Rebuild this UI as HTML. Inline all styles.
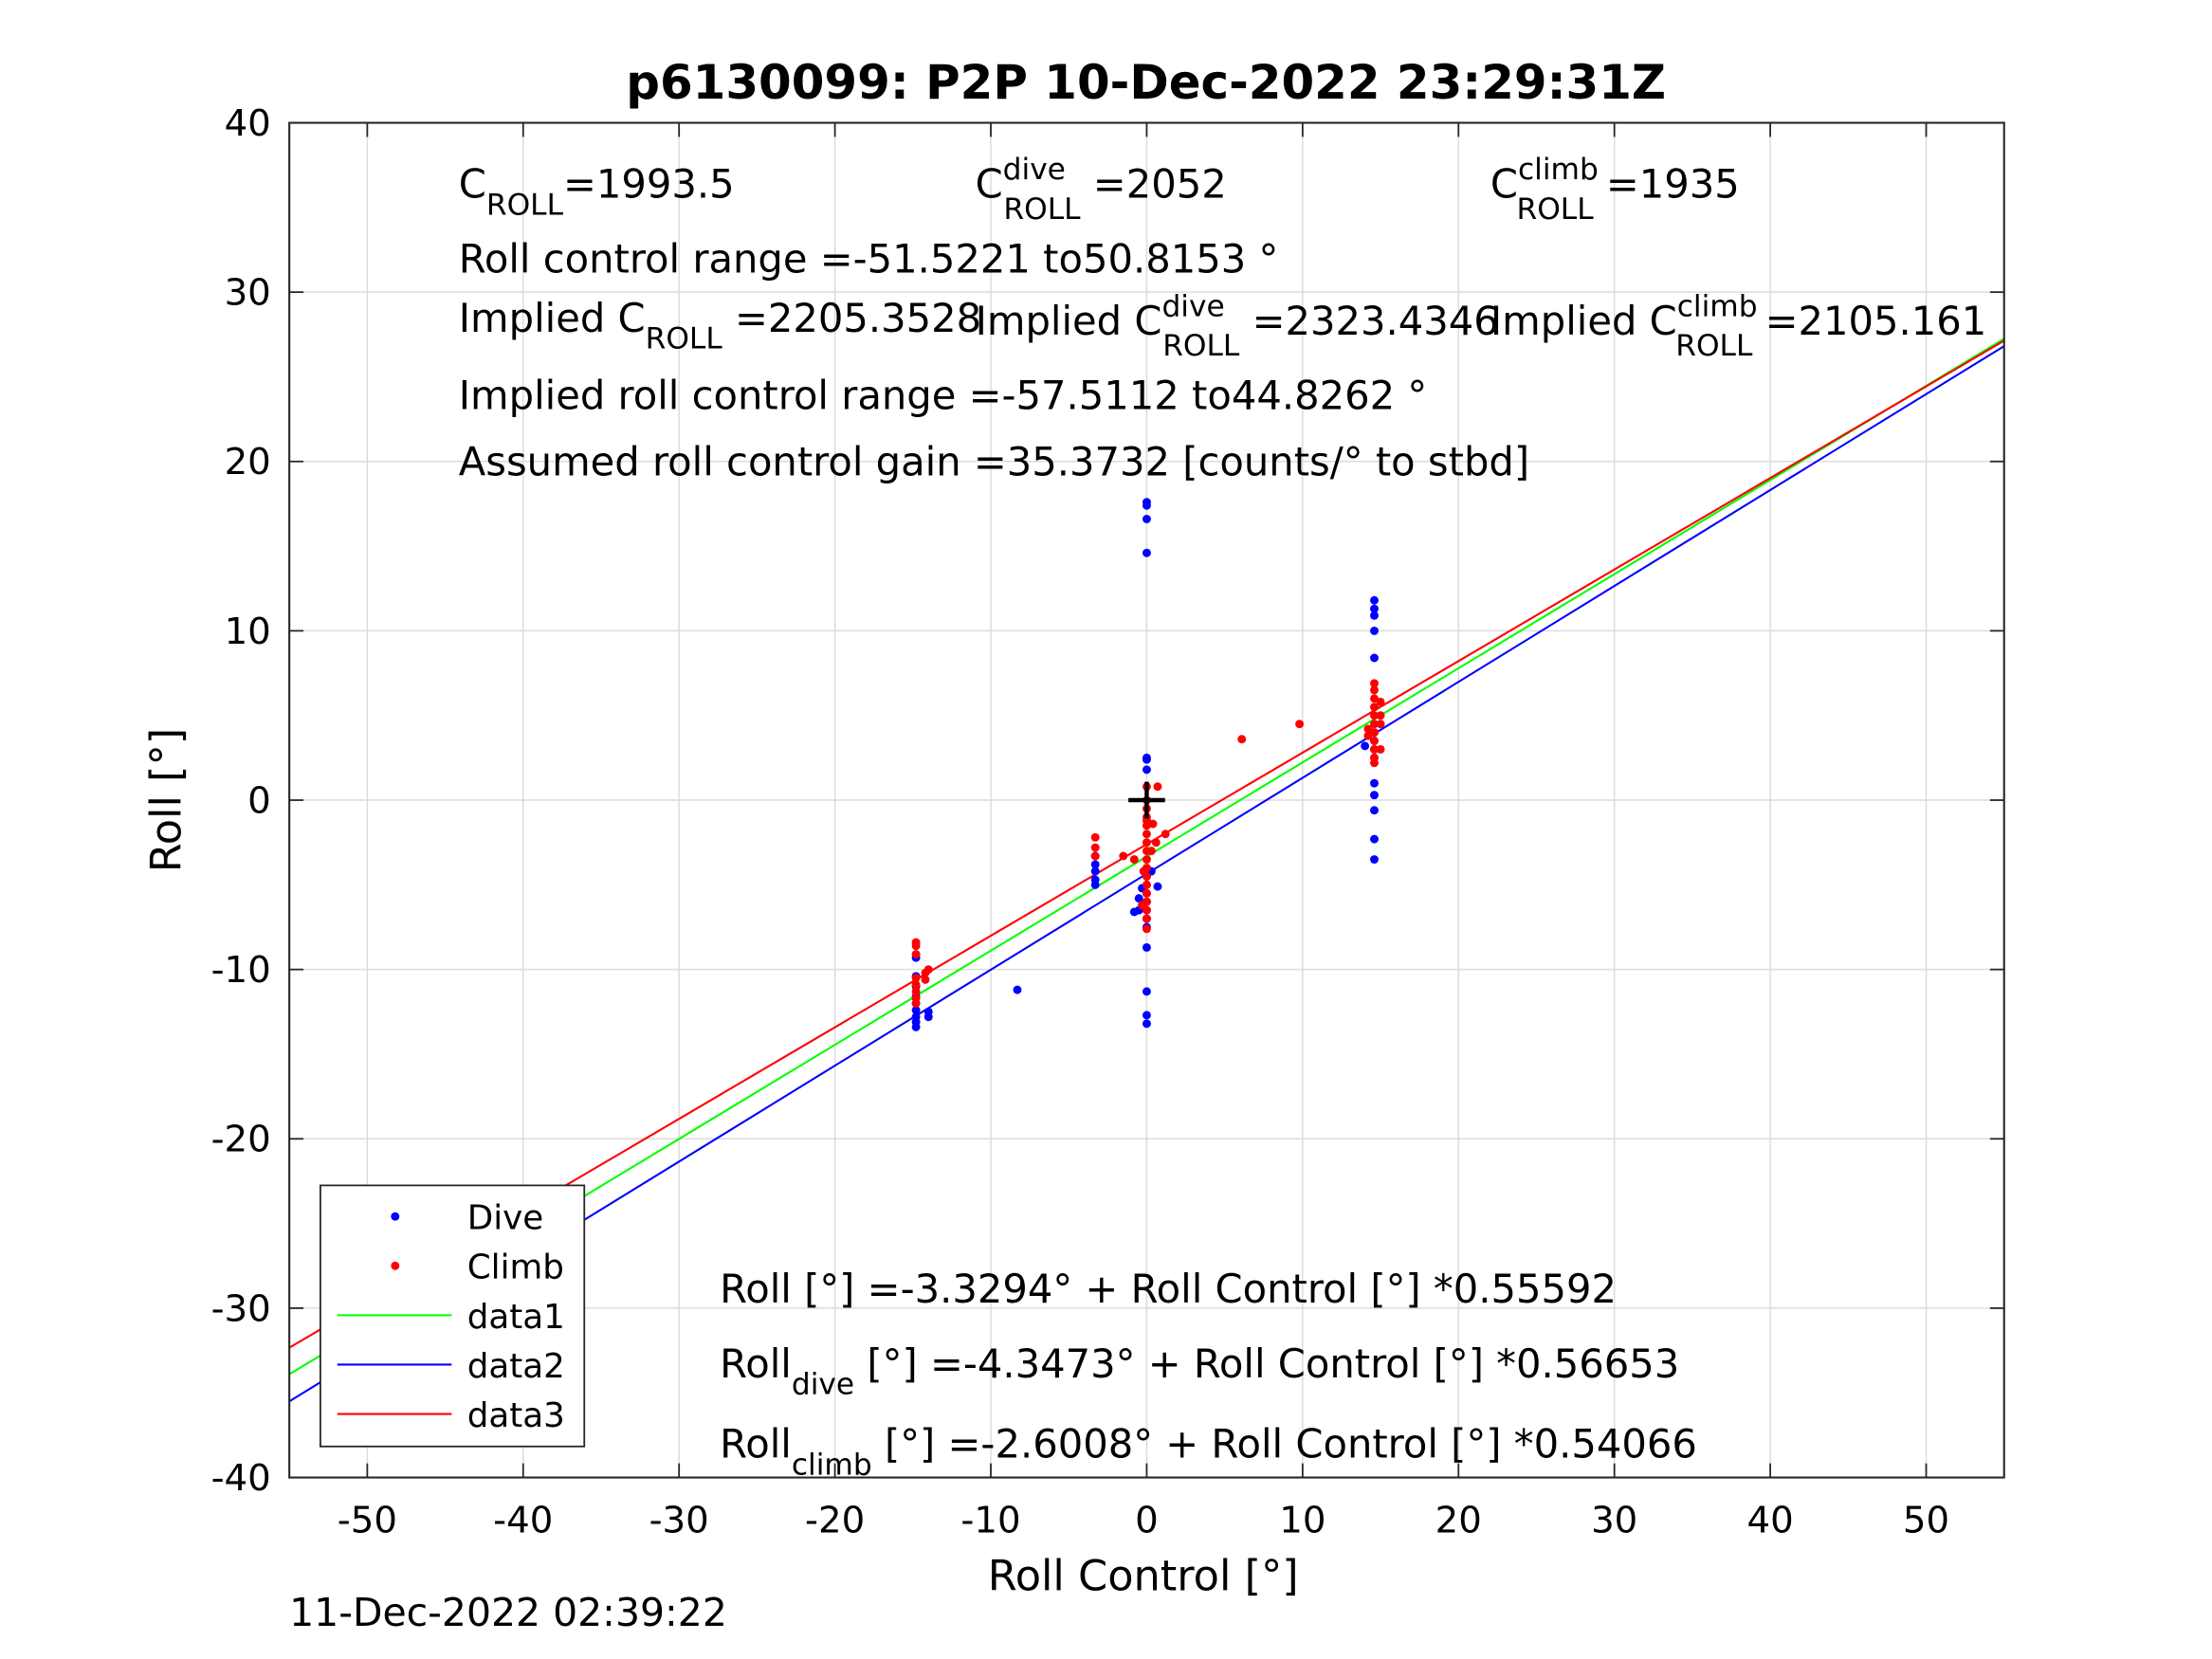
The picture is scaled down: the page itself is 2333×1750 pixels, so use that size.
<!DOCTYPE html>
<html><head><meta charset="utf-8"><style>
html,body{margin:0;padding:0;background:#fff}
svg{display:block}
text{font-family:"DejaVu Sans","Liberation Sans",sans-serif;fill:#000}
</style></head><body>
<svg id="chart" width="2333" height="1750" viewBox="0 0 1567.3 1175.6" xmlns="http://www.w3.org/2000/svg">
<rect x="0" y="0" width="1567.3" height="1175.6" fill="#fff"/>
<g id="grid"></g>
<g id="lines"></g>
<g id="pts"></g>
<g id="axes"></g>
<text x="812" y="70" text-anchor="middle" font-size="33.5" font-weight="bold">p6130099: P2P 10-Dec-2022 23:29:31Z</text>
<g font-size="28">
<text x="325" y="140">C<tspan font-size="21" dy="12">ROLL</tspan><tspan dy="-12">=1993.5</tspan></text>
<text x="691" y="140">C<tspan font-size="21" dy="-13">dive</tspan><tspan font-size="21" dx="-44" dy="28">ROLL</tspan><tspan dy="-15"> =2052</tspan></text>
<text x="1056" y="140">C<tspan font-size="21" dy="-13">climb</tspan><tspan font-size="21" dx="-58" dy="28">ROLL</tspan><tspan dy="-15"> =1935</tspan></text>
<text x="325" y="193">Roll control range =-51.5221 to50.8153 °</text>
<text x="325" y="235">Implied C<tspan font-size="21" dy="12">ROLL</tspan><tspan dy="-12"> =2205.3528</tspan></text>
<text x="691" y="237">Implied C<tspan font-size="21" dy="-13">dive</tspan><tspan font-size="21" dx="-44" dy="28">ROLL</tspan><tspan dy="-15"> =2323.4346</tspan></text>
<text x="1056" y="237">Implied C<tspan font-size="21" dy="-13">climb</tspan><tspan font-size="21" dx="-58" dy="28">ROLL</tspan><tspan dy="-15"> =2105.161</tspan></text>
<text x="325" y="290">Implied roll control range =-57.5112 to44.8262 °</text>
<text x="325" y="337">Assumed roll control gain =35.3732 [counts/° to stbd]</text>
<text x="510" y="923">Roll [°] =-3.3294° + Roll Control [°] *0.55592</text>
<text x="510" y="976">Roll<tspan font-size="21" dy="12">dive</tspan><tspan dy="-12"> [°] =-4.3473° + Roll Control [°] *0.56653</tspan></text>
<text x="510" y="1033">Roll<tspan font-size="21" dy="12">climb</tspan><tspan dy="-12"> [°] =-2.6008° + Roll Control [°] *0.54066</tspan></text>
</g>
<text x="810" y="1127" text-anchor="middle" font-size="30" fill="#262626">Roll Control [°]</text>
<text transform="translate(128,567) rotate(-90)" text-anchor="middle" font-size="30" fill="#262626">Roll [°]</text>
<text x="205" y="1152" font-size="27.5">11-Dec-2022 02:39:22</text>
<g id="legend"></g>
</svg>
<script>
const xTicks=[-50,-40,-30,-20,-10,0,10,20,30,40,50];
const yTicks=[-40,-30,-20,-10,0,10,20,30,40];
const fitNames=['data1','data2','data3'];
const fitIntercepts=[-3.3294,-4.3473,-2.6008];
const fitSlopes=[0.55592,0.56653,0.54066];
const fitColors=['#00ff00','#0000ff','#ff0000'];
const diveX=[0,0,0,0,0,0,0,0,0,0,0,0,0,0,0,0,0,0,0.7,-0.5,-0.5,-3.3,-3.3,-3.3,-3.3,-3.3,-14.8,-14.8,-14.8,-14.8,-14.8,-14.8,-14.8,-14.8,-14.8,-14,-14,-8.3,14.6,14.6,14.6,14.6,14.6,14.6,14.6,14.6,14.6,14.6,14.6,14.6,14.6,14.6,14,-0.8,-0.3,0.3];
const diveY=[17.6,17.4,16.6,14.6,2.5,2.4,1.8,-4.5,-5,-5.5,-6,-6.5,-7,-7.5,-8.7,-11.3,-12.7,-13.2,-5.1,-6.5,-5.8,-3.3,-3.8,-4.2,-4.7,-5,-9.3,-10.4,-11,-11.6,-12,-12.4,-12.8,-13.1,-13.4,-12.8,-12.5,-11.2,11.8,11.3,10.9,10,8.4,4,3.5,3,2.5,1,0.3,-0.6,-2.3,-3.5,3.2,-6.6,-5.2,-4.2];
const climbX=[-14.8,-14.8,-14.8,-14.8,-14.8,-14.8,-14.8,-14.8,-14.2,-14.2,-14,-3.3,-3.3,-3.3,0,0,0,0,0,0,0,0,0,0,0,0,0,0,0,0,0,0,0.3,-0.3,0.6,1.2,-0.8,-1.5,-0.2,0.4,0.7,6.1,9.8,14.6,14.6,14.6,14.6,14.6,14.6,14.6,14.6,14.6,14.6,14.6,15,15,15,15,14.2,14.2];
const climbY=[-8.4,-8.6,-9.1,-10.5,-10.9,-11.3,-11.7,-12,-10.2,-10.6,-10,-2.2,-2.8,-3.3,0.8,0,-0.5,-1,-1.5,-2,-2.5,-3,-3.5,-4,-4.5,-5,-5.5,-6,-6.5,-7,-7.6,-1.2,-3,-6.2,-2.5,-2,-3.5,-3.3,-4.2,-1.4,0.8,3.6,4.5,6.9,6.5,6,5.5,5,4.5,4,3.5,3,2.5,2.2,5.8,5,4.5,3,4.2,3.8];
const L=205,R=1420,T=87,B=1047,X0=-55,X1=55,Y0=-40,Y1=40;
const sx=v=>L+(v-X0)/(X1-X0)*(R-L);
const sy=v=>B-(v-Y0)/(Y1-Y0)*(B-T);
const NS='http://www.w3.org/2000/svg';
function mk(tag,attrs,parent){const e=document.createElementNS(NS,tag);for(const k in attrs)e.setAttribute(k,attrs[k]);parent.appendChild(e);return e;}
const grid=document.getElementById('grid'),axes=document.getElementById('axes'),lines=document.getElementById('lines'),pts=document.getElementById('pts'),leg=document.getElementById('legend');
xTicks.forEach(t=>{const x=sx(t);
 const g=mk('line',{x1:x,x2:x,y1:T,y2:B,stroke:'#dcdcdc','stroke-width':1},grid);
 
 
 mk('line',{x1:x,x2:x,y1:B,y2:B-10,stroke:'#262626','stroke-width':1.2},axes);
 mk('line',{x1:x,x2:x,y1:T,y2:T+10,stroke:'#262626','stroke-width':1.2},axes);
 const tx=mk('text',{x:x,y:1086,'text-anchor':'middle','font-size':26,fill:'#262626'},axes);tx.textContent=t;
 
 
});
yTicks.forEach(t=>{const y=sy(t);
 const g=mk('line',{x1:L,x2:R,y1:y,y2:y,stroke:'#dcdcdc','stroke-width':1},grid);
 
 
 mk('line',{x1:L,x2:L+10,y1:y,y2:y,stroke:'#262626','stroke-width':1.2},axes);
 mk('line',{x1:R,x2:R-10,y1:y,y2:y,stroke:'#262626','stroke-width':1.2},axes);
 const tx=mk('text',{x:192,y:y+9,'text-anchor':'end','font-size':26,fill:'#262626'},axes);tx.textContent=t;
 
 
});
const box=mk('rect',{x:L,y:T,width:R-L,height:B-T,fill:'none',stroke:'#262626','stroke-width':1.4},axes);


fitNames.forEach((n,i)=>{
 const l=mk('line',{x1:sx(X0),y1:sy(fitIntercepts[i]+fitSlopes[i]*X0),x2:sx(X1),y2:sy(fitIntercepts[i]+fitSlopes[i]*X1),stroke:fitColors[i],'stroke-width':1.4},lines);
 
 
});
diveX.forEach((v,i)=>{const c=mk('circle',{cx:sx(v),cy:sy(diveY[i]),r:3,fill:'#0000ff'},pts);
 
 });
climbX.forEach((v,i)=>{const c=mk('circle',{cx:sx(v),cy:sy(climbY[i]),r:3,fill:'#ff0000'},pts);
 
 });
const cr=mk('path',{d:`M${sx(0)-13},${sy(0)}H${sx(0)+13}M${sx(0)},${sy(0)-13}V${sy(0)+13}`,stroke:'#000','stroke-width':3},pts);


mk('rect',{x:227,y:840,width:187,height:185,fill:'#fff',stroke:'#262626','stroke-width':1.2},leg);
const legLabels=['Dive','Climb','data1','data2','data3'];
const legColors=['#0000ff','#ff0000','#00ff00','#0000ff','#ff0000'];
legLabels.forEach((s,i)=>{const y=862+i*35;
 if(i<2){mk('circle',{cx:280,cy:y,r:3,fill:legColors[i]},leg);}
 else{mk('line',{x1:239,x2:320,y1:y,y2:y,stroke:legColors[i],'stroke-width':1.4},leg);}
 const t=mk('text',{x:331,y:y+9,'font-size':24},leg);t.textContent=s;
 
 
});
</script>
</body></html>
